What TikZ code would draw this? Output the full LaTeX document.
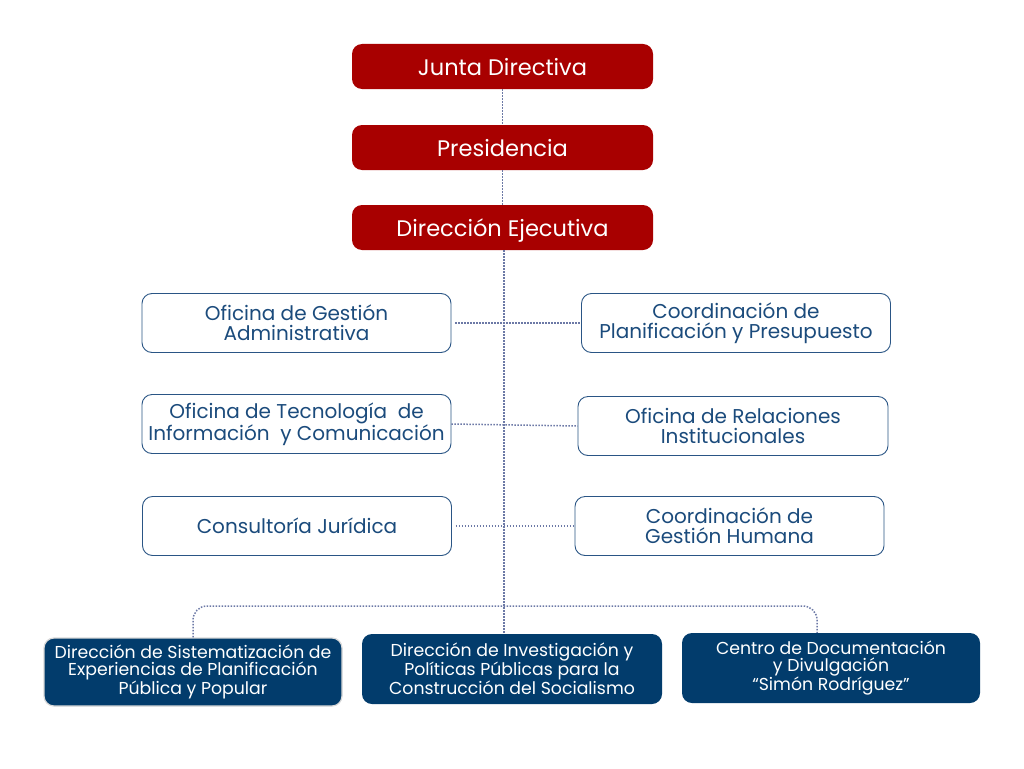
\documentclass[tikz,border=0pt]{standalone}
\usepackage{fontspec}
\setmainfont{Poppins}
\usetikzlibrary{calc}
\definecolor{juntared}{HTML}{A80000}
\definecolor{navyfill}{HTML}{023C6C}
\definecolor{textblue}{HTML}{1B4B7C}
\definecolor{boxline}{HTML}{2A5585}
\definecolor{linkblue}{HTML}{6C79A6}
\tikzset{
	redbox/.style={fill=juntared, rounded corners=10pt, minimum width=301pt, minimum height=45pt, text height=17pt, text depth=0pt, text=white, font=\fontsize{22.5}{25}\selectfont},
	officebox/.style={draw=boxline, line width=0.9pt, fill=white, rounded corners=10pt, minimum width=309pt, minimum height=59pt, inner sep=2pt, text=textblue, align=center, font=\fontsize{20}{20}\selectfont},
	navybox/.style={fill=navyfill, rounded corners=10pt, minimum width=300pt, minimum height=70pt, inner sep=2pt, text=white, align=center, font=\fontsize{17.3}{16.8}\selectfont},
	link/.style={draw=linkblue, line width=1.5pt, dash pattern=on 1.5pt off 1.5pt}
}

\begin{document}
\begin{tikzpicture}[x=1pt, y=-1pt]
			%%%%% START %%%%%
			\useasboundingbox[fill=white] (0, 0) rectangle (1024, 768);
			
			\node[redbox] (junta) at (502.5, 66.5) {Junta Directiva};
			\node[redbox] (presid) at (502.5, 147.5) {Presidencia};
			\node[redbox] (direjec) at (502.5, 227.5) {Dirección Ejecutiva};
			
			\node[officebox] (ogadmin) at (296.5, 323) {Oficina de Gestión\\Administrativa};
			\node[officebox] (otic) at (296.5, 424) {Oficina de Tecnología\ \ de\\Información\ \ y Comunicación};
			\node[officebox] (cjurid) at (297, 526) {Consultoría Jurídica};
			
			\node[officebox] (cplan) at (736, 323) {Coordinación de\\Planificación y Presupuesto};
			\node[officebox, minimum width=310pt] (orelac) at (733, 426) {Oficina de Relaciones\\Institucionales};
			\node[officebox] (cghum) at (729.5, 526) {Coordinación de\\Gestión Humana};
			
			\node[navybox, draw=black!15, line width=1.2pt, minimum width=298pt, minimum height=68pt] (dsist) at (193, 672) {Dirección de Sistematización de\\Experiencias de Planificación\\Pública y Popular};
			\node[navybox] (dinvest) at (512, 669) {Dirección de Investigación y\\Políticas Públicas para la\\Construcción del Socialismo};
			\node[navybox, minimum width=298pt] (cdoc) at (831, 668) {Centro de Documentación\\y Divulgación\\“Simón Rodríguez”};
			
			\coordinate (spine) at (504, 606);
			\coordinate (rturn) at (817, 606);
			
			\draw[link] (junta) -- (presid);
			\draw[link] (presid) -- (direjec);
			\draw[link] (direjec.south -| spine) -- (spine) -- (spine |- dinvest.north);
			
			\draw[link, shorten <=4pt] (ogadmin.east) -- (cplan.west);
			\draw[link] (otic.east) -- (orelac.west);
			\draw[link, shorten <=4pt] (cjurid.east) -- (cghum.west);
			
			\draw[link, rounded corners=14pt] (dsist.north) |- (rturn) -- (rturn |- cdoc.north);
			
			%%%%% END %%%%%
\end{tikzpicture}
\end{document}
